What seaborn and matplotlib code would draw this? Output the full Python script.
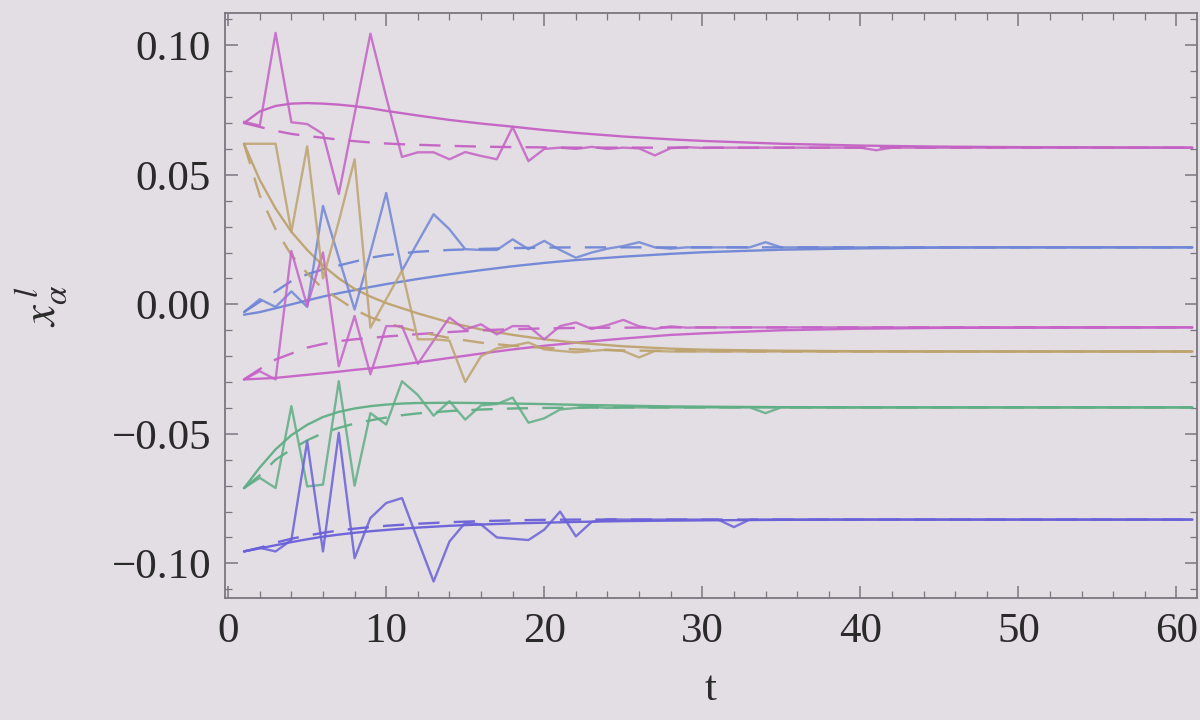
import numpy as np
import pandas as pd
import matplotlib
matplotlib.use("Agg")
import matplotlib.pyplot as plt
from matplotlib.ticker import MultipleLocator
import seaborn as sns

# ---------------- data ----------------
# noisy (solid, jagged) trajectories
t_noisy = list(range(1, 37)) + [40, 41, 42, 50, 61]

m1_noisy = [0.0705, 0.0690, 0.1048, 0.0703, 0.0696, 0.0658, 0.0426, 0.0735, 0.1045, 0.0800,
            0.0569, 0.0587, 0.0587, 0.0560, 0.0588, 0.0573, 0.0560, 0.0685, 0.0553, 0.0600,
            0.0605, 0.0600, 0.0608, 0.0600, 0.0605, 0.0602, 0.0575, 0.0603, 0.0607, 0.0604,
            0.0605, 0.0605, 0.0605, 0.0605, 0.0605, 0.0605, 0.0605, 0.0595, 0.0605, 0.0605, 0.0605]
b2_noisy = [-0.0030, 0.0020, -0.0010, 0.0050, -0.0010, 0.0380, 0.0180, -0.0020, 0.0200, 0.0430,
            0.0130, 0.0240, 0.0348, 0.0290, 0.0213, 0.0210, 0.0210, 0.0251, 0.0213, 0.0245,
            0.0210, 0.0180, 0.0200, 0.0215, 0.0225, 0.0240, 0.0220, 0.0215, 0.0220, 0.0220,
            0.0220, 0.0220, 0.0220, 0.0240, 0.0220, 0.0220, 0.0220, 0.0220, 0.0220, 0.0220, 0.0220]
m3_noisy = [-0.0290, -0.0258, -0.0290, 0.0206, -0.0006, 0.0200, -0.0239, -0.0045, -0.0270, -0.0084,
            -0.0084, -0.0230, -0.0140, -0.0051, -0.0097, -0.0077, -0.0116, -0.0084, -0.0084, -0.0135,
            -0.0084, -0.0070, -0.0095, -0.0080, -0.0060, -0.0085, -0.0095, -0.0085, -0.0090, -0.0089,
            -0.0089, -0.0089, -0.0089, -0.0089, -0.0089, -0.0089, -0.0089, -0.0089, -0.0089, -0.0089, -0.0089]
y4_noisy = [0.0620, 0.0620, 0.0620, 0.0280, 0.0610, 0.0100, 0.0320, 0.0560, -0.0090, 0.0020,
            0.0130, -0.0135, -0.0135, -0.0140, -0.0300, -0.0200, -0.0170, -0.0160, -0.0147, -0.0174,
            -0.0180, -0.0185, -0.0180, -0.0175, -0.0180, -0.0205, -0.0180, -0.0182, -0.0182, -0.0182,
            -0.0182, -0.0182, -0.0182, -0.0182, -0.0182, -0.0182, -0.0182, -0.0182, -0.0182, -0.0182, -0.0182]
g5_noisy = [-0.0709, -0.0670, -0.0709, -0.0393, -0.0703, -0.0696, -0.0297, -0.0700, -0.0420, -0.0464,
            -0.0297, -0.0350, -0.0430, -0.0374, -0.0445, -0.0390, -0.0385, -0.0360, -0.0457, -0.0440,
            -0.0406, -0.0400, -0.0395, -0.0400, -0.0398, -0.0398, -0.0398, -0.0398, -0.0398, -0.0398,
            -0.0398, -0.0398, -0.0398, -0.0420, -0.0398, -0.0398, -0.0398, -0.0398, -0.0398, -0.0398, -0.0398]
p6_noisy = [-0.0954, -0.0940, -0.0954, -0.0910, -0.0529, -0.0954, -0.0496, -0.0980, -0.0825, -0.0767,
            -0.0748, -0.0910, -0.1070, -0.0916, -0.0843, -0.0850, -0.0900, -0.0905, -0.0910, -0.0870,
            -0.0800, -0.0896, -0.0840, -0.0830, -0.0831, -0.0831, -0.0831, -0.0831, -0.0831, -0.0831,
            -0.0831, -0.0860, -0.0831, -0.0831, -0.0831, -0.0831, -0.0831, -0.0831, -0.0831, -0.0831, -0.0831]

# smooth (solid) and dashed curves
t_curve = [1, 2, 3, 4, 5, 6, 7, 8, 9, 10, 11, 12, 14, 16, 18, 20, 22, 25, 28, 30, 35, 40, 45, 50, 61]

m1_smooth = [0.0700, 0.0745, 0.0766, 0.0775, 0.0777, 0.0775, 0.0771, 0.0765, 0.0757, 0.0747, 0.0738, 0.0729,
             0.0712, 0.0698, 0.0686, 0.0673, 0.0662, 0.0648, 0.0637, 0.0631, 0.0620, 0.0613, 0.0609, 0.0607, 0.0605]
m1_dashed = [0.0700, 0.0685, 0.0670, 0.0658, 0.0650, 0.0643, 0.0636, 0.0630, 0.0625, 0.0621, 0.0618, 0.0616,
             0.0612, 0.0609, 0.0607, 0.0606, 0.0605, 0.0605, 0.0605, 0.0605, 0.0605, 0.0605, 0.0605, 0.0605, 0.0605]
b2_smooth = [-0.0040, -0.0030, -0.0015, 0.0000, 0.0015, 0.0030, 0.0043, 0.0055, 0.0067, 0.0078, 0.0088, 0.0098,
             0.0116, 0.0132, 0.0147, 0.0160, 0.0171, 0.0184, 0.0195, 0.0201, 0.0211, 0.0216, 0.0219, 0.0220, 0.0220]
b2_dashed = [-0.0030, 0.0010, 0.0050, 0.0090, 0.0116, 0.0135, 0.0150, 0.0165, 0.0180, 0.0190, 0.0197, 0.0203,
             0.0210, 0.0214, 0.0217, 0.0219, 0.0220, 0.0220, 0.0220, 0.0220, 0.0220, 0.0220, 0.0220, 0.0220, 0.0220]
m3_smooth = [-0.0290, -0.0287, -0.0284, -0.0278, -0.0272, -0.0266, -0.0260, -0.0253, -0.0247, -0.0240, -0.0232, -0.0224,
             -0.0207, -0.0190, -0.0174, -0.0160, -0.0148, -0.0132, -0.0118, -0.0112, -0.0100, -0.0094, -0.0091, -0.0090, -0.0089]
m3_dashed = [-0.0290, -0.0250, -0.0213, -0.0190, -0.0167, -0.0153, -0.0142, -0.0135, -0.0130, -0.0124, -0.0120, -0.0115,
             -0.0107, -0.0100, -0.0096, -0.0093, -0.0091, -0.0090, -0.0089, -0.0089, -0.0089, -0.0089, -0.0089, -0.0089, -0.0089]
y4_smooth = [0.0620, 0.0480, 0.0370, 0.0280, 0.0210, 0.0150, 0.0100, 0.0060, 0.0030, 0.0005, -0.0015, -0.0035,
             -0.0070, -0.0097, -0.0118, -0.0135, -0.0148, -0.0162, -0.0171, -0.0175, -0.0179, -0.0181, -0.0182, -0.0182, -0.0182]
y4_dashed = [0.0620, 0.0420, 0.0290, 0.0190, 0.0120, 0.0060, 0.0020, -0.0020, -0.0050, -0.0070, -0.0090, -0.0105,
             -0.0130, -0.0148, -0.0160, -0.0168, -0.0174, -0.0178, -0.0180, -0.0181, -0.0182, -0.0182, -0.0182, -0.0182, -0.0182]
g5_smooth = [-0.0710, -0.0630, -0.0560, -0.0505, -0.0465, -0.0435, -0.0415, -0.0402, -0.0393, -0.0387, -0.0383, -0.0381,
             -0.0380, -0.0381, -0.0383, -0.0385, -0.0388, -0.0391, -0.0394, -0.0395, -0.0397, -0.0398, -0.0398, -0.0398, -0.0398]
g5_dashed = [-0.0710, -0.0660, -0.0600, -0.0560, -0.0525, -0.0497, -0.0477, -0.0460, -0.0448, -0.0437, -0.0428, -0.0421,
             -0.0412, -0.0406, -0.0402, -0.0400, -0.0399, -0.0398, -0.0398, -0.0398, -0.0398, -0.0398, -0.0398, -0.0398, -0.0398]
p6_smooth = [-0.0954, -0.0942, -0.0930, -0.0918, -0.0907, -0.0897, -0.0889, -0.0882, -0.0876, -0.0871, -0.0866, -0.0862,
             -0.0855, -0.0850, -0.0846, -0.0843, -0.0840, -0.0837, -0.0835, -0.0834, -0.0832, -0.0831, -0.0831, -0.0831, -0.0831]
p6_dashed = [-0.0954, -0.0940, -0.0920, -0.0905, -0.0893, -0.0882, -0.0873, -0.0866, -0.0860, -0.0855, -0.0851, -0.0847,
             -0.0841, -0.0837, -0.0834, -0.0832, -0.0831, -0.0831, -0.0831, -0.0831, -0.0831, -0.0831, -0.0831, -0.0831, -0.0831]

series_colors = ["#c462c4", "#6f86d6", "#c563c8", "#bda36e", "#5fae85", "#6a60d8"]

x_ticks = [0, 10, 20, 30, 40, 50, 60]
x_tick_labels = ["0", "10", "20", "30", "40", "50", "60"]
y_ticks = [-0.10, -0.05, 0.00, 0.05, 0.10]
y_tick_labels = ["\u22120.10", "\u22120.05", "0.00", "0.05", "0.10"]

# ---------------- style ----------------
bg = "#e3dee4"
sns.set_theme(style="ticks", rc={"axes.facecolor": bg, "figure.facecolor": bg})
plt.rcParams["font.family"] = ["Liberation Serif", "DejaVu Serif"]
plt.rcParams["mathtext.fontset"] = "stix"

fig = plt.figure(figsize=(12, 7.2), dpi=100)
ax = fig.add_axes([0.1875, 0.169, 0.81, 0.813])

noisy = [m1_noisy, b2_noisy, m3_noisy, y4_noisy, g5_noisy, p6_noisy]
smooth = [m1_smooth, b2_smooth, m3_smooth, y4_smooth, g5_smooth, p6_smooth]
dashed = [m1_dashed, b2_dashed, m3_dashed, y4_dashed, g5_dashed, p6_dashed]

lw = 1.7
for vals, col in zip(smooth, series_colors):
    sns.lineplot(x=t_curve, y=vals, ax=ax, color=col, lw=lw, alpha=0.95)
for vals, col in zip(dashed, series_colors):
    sns.lineplot(x=t_curve, y=vals, ax=ax, color=col, lw=lw, alpha=0.95)
    ax.lines[-1].set_dashes((9, 6))
for vals, col in zip(noisy, series_colors):
    sns.lineplot(x=t_noisy, y=vals, ax=ax, color=col, lw=lw, alpha=0.85)

ax.set_xlim(-0.2, 61.3)
ax.set_ylim(-0.1135, 0.1125)

ax.set_xticks(x_ticks)
ax.set_xticklabels(x_tick_labels)
ax.set_yticks(y_ticks)
ax.set_yticklabels(y_tick_labels)
ax.xaxis.set_minor_locator(MultipleLocator(2))
ax.yaxis.set_minor_locator(MultipleLocator(0.01))

frame_col = "#7a7680"
ax.tick_params(which="both", direction="in", top=True, right=True, color=frame_col,
               labelsize=31, labelcolor="#2a2a2a", pad=10)
ax.tick_params(which="major", length=9, width=1.1)
ax.tick_params(which="minor", length=5, width=0.9)
for s in ax.spines.values():
    s.set_color(frame_col)
    s.set_linewidth(1.3)
    s.set_visible(True)

ax.set_xlabel("t", fontsize=31, color="#2a2a2a", labelpad=14)
ax.set_ylabel(r"$x_{\alpha}^{\,l}$", fontsize=34, color="#2a2a2a", labelpad=30)

fig.savefig("out.png", dpi=100, facecolor=bg)
